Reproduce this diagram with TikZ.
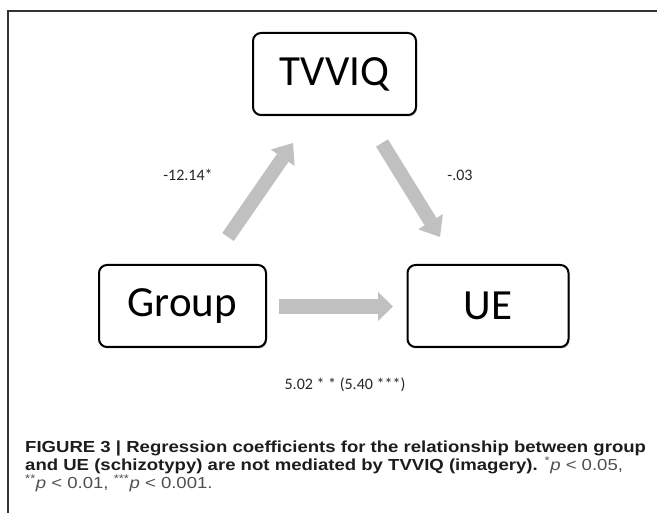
\documentclass[tikz,border=0pt]{standalone}
\usepackage{fontspec}
\setmainfont{Carlito}
\newfontfamily\capfont{Liberation Sans}
\usetikzlibrary{arrows.meta,shadows}
\definecolor{arrowgray}{RGB}{192,192,192}
\definecolor{captext}{RGB}{30,28,28}
\definecolor{capgray}{RGB}{80,80,80}
\newcommand{\capwide}[1]{\scalebox{1.16}[1]{#1}}
\begin{document}
\begin{tikzpicture}[x=1pt,y=-1pt,
  box/.style={draw=black, line width=2pt, rounded corners=8pt, fill=white,
    minimum width=163pt, minimum height=82pt, inner sep=0pt,
    font=\fontsize{43}{50}\selectfont,
    drop shadow={shadow xshift=1pt, shadow yshift=-1.5pt, opacity=0.25, fill=black}},
  fatd/.style={draw=arrowgray, line width=14pt,
    -{Triangle[length=18pt,width=29pt,line width=0pt]}},
  fath/.style={draw=arrowgray, line width=15pt,
    -{Triangle[length=15pt,width=29pt,line width=0pt]}},
  lbl/.style={font=\fontsize{16}{19}\selectfont, text=black!85},
  capline/.style={anchor=base west, inner sep=0pt, text=captext,
    font=\capfont\fontsize{16}{18}\selectfont}
]
\useasboundingbox (0,0) rectangle (657,513);
\draw[line width=1.5pt, black!80] (657,11) -- (8,11) -- (8,513);

\node[box] (tvviq) at (334.5,74) {TVVIQ};
\node[box, minimum width=167pt] (group) at (182.5,306) {Group};
\node[box, minimum width=161pt] (ue) at (488,306) {UE};

\coordinate (gt) at (228,237);
\coordinate (tg) at (293,143);
\coordinate (tu) at (382,143);
\coordinate (ut) at (440,237);
\coordinate (gu) at (279,306.5);
\coordinate (ug) at (393,306.5);
\draw[fatd] (gt) -- (tg);
\draw[fatd] (tu) -- (ut);
\draw[fath] (gu) -- (ug);

\node[lbl] (l1) at (188,175) {-12.14*};
\node[lbl] (l2) at (460,175) {-.03};
\node[lbl] (l3) at (345,385) {5.02 * * (5.40 ***)};

\node[capline] (c1) at (25,453) {\capwide{\textbf{FIGURE 3 | Regression coefficients for the relationship between group}}};
\node[capline] (c2) at (25,471) {\capwide{\textbf{and UE (schizotypy) are not mediated by TVVIQ (imagery).} {\color{capgray}\textsuperscript{*}\textit{p} < 0.05,}}};
\node[capline] (c3) at (25,489) {\capwide{\color{capgray}\textsuperscript{**}\textit{p} < 0.01, \textsuperscript{***}\textit{p} < 0.001.}};
\end{tikzpicture}
\end{document}
